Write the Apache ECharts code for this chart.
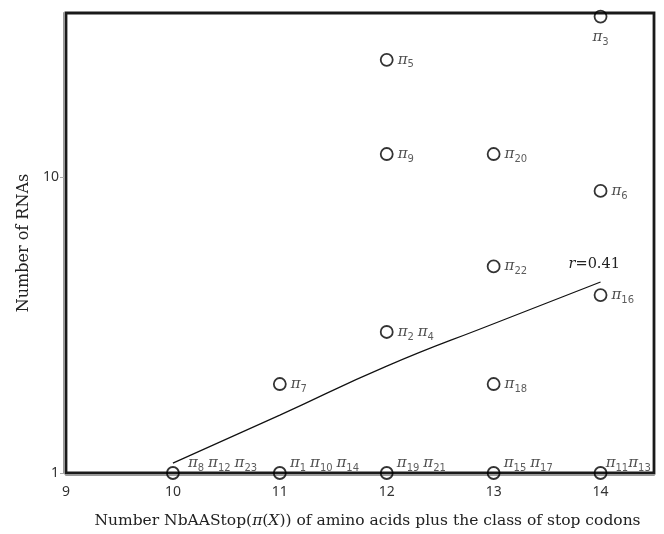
<!DOCTYPE html>
<html>
<head>
<meta charset="utf-8">
<script src="https://cdn.jsdelivr.net/npm/echarts@6/dist/echarts.min.js"></script>
<style>html,body{margin:0;padding:0;background:#fff;}#c{width:664px;height:534px;}</style>
</head>
<body>
<div id="c"></div>
<script>
const xTickValues = [9, 10, 11, 12, 13, 14];
const yTickValues = [1, 10];
const stopClass = [10, 11, 12, 13, 14, 14, 12, 12, 13, 14, 13, 14, 12, 11, 13];
const rnaCounts = [1, 1, 1, 1, 1, 35, 25, 12, 12, 9, 5, 4, 3, 2, 2];
const piLabels = ['π8 π12 π23', 'π1 π10 π14', 'π19 π21', 'π15 π17', 'π11π13', 'π3', 'π5', 'π9', 'π20', 'π6', 'π22', 'π16', 'π2 π4', 'π7', 'π18'];
const trendX = [10, 11, 12, 13, 14];
const trendY = [1.08, 1.57, 2.30, 3.20, 4.43];
const rValue = '0.41';
const xAxisName = 'Number NbAAStop(π(X)) of amino acids plus the class of stop codons';
const yAxisName = 'Number of RNAs';

const maxCount = Math.max.apply(null, rnaCounts);
function toRich(s) { return s.replace(/π(\d+)/g, '{p|π}{s|$1}'); }
const richStyles = {
  p: { fontFamily: 'DejaVu Serif', fontStyle: 'italic', fontSize: 15, color: '#222', lineHeight: 20, verticalAlign: 'middle' },
  s: { fontFamily: 'DejaVu Sans', fontSize: 10, color: '#333', lineHeight: 20, verticalAlign: 'bottom' }
};

const scatterData = stopClass.map(function (x, i) {
  const y = rnaCounts[i];
  let label;
  if (y === 1) {
    label = { position: [x === 14 ? 12 : (x === 10 ? 22 : 17), -3], align: 'left', verticalAlign: 'middle' };
  } else if (y === maxCount) {
    label = { position: 'bottom', distance: 4 };
  } else {
    label = { position: 'right', distance: 4 };
  }
  return { value: [x, y], name: piLabels[i], label: label };
});

const chart = echarts.init(document.getElementById('c'), null, { renderer: 'canvas' });
chart.setOption({
  animation: false,
  backgroundColor: '#fff',
  grid: { left: 66, right: 10, top: 13, bottom: 56, show: true, borderColor: '#1a1a1a', borderWidth: 2.8, backgroundColor: 'transparent' },
  xAxis: {
    type: 'value', min: 9, max: 14.5, interval: 1, offset: 2,
    splitLine: { show: false },
    axisLine: { show: true, lineStyle: { color: '#999', width: 2 } },
    axisTick: { show: false },
    axisLabel: { customValues: xTickValues, color: '#333', fontFamily: 'Noto Sans', fontSize: 14, margin: 10 },
    name: xAxisName.replace('(π(X))', '({i|π}({i|X}))'),
    nameLocation: 'middle', nameGap: 38,
    nameTextStyle: {
      fontFamily: 'DejaVu Serif', fontSize: 15.5, color: '#222', padding: [0, 0, 0, 15],
      rich: { i: { fontFamily: 'DejaVu Serif', fontStyle: 'italic', fontSize: 15.5, color: '#222' } }
    }
  },
  yAxis: {
    type: 'log', logBase: 10, min: 1, max: 36, offset: 2,
    splitLine: { show: false },
    axisLine: { show: true, lineStyle: { color: '#999', width: 2 } },
    axisTick: { show: true, customValues: yTickValues, length: 4, lineStyle: { color: '#aaa' } },
    axisLabel: { customValues: yTickValues, color: '#333', fontFamily: 'Noto Sans', fontSize: 14, margin: 5 },
    name: yAxisName, nameLocation: 'middle', nameGap: 25, nameRotate: 90,
    nameTextStyle: { fontFamily: 'DejaVu Serif', fontSize: 16, color: '#222' }
  },
  series: [
    {
      type: 'line', data: trendX.map(function (x, i) { return [x, trendY[i]]; }),
      smooth: true, symbol: 'none', showSymbol: false,
      lineStyle: { color: '#111', width: 1.2 },
      endLabel: {
        show: true, position: 'top', offset: [-40, -18],
        formatter: function () { return '{r|r}=' + rValue; },
        fontFamily: 'DejaVu Serif', fontSize: 14.5, color: '#222',
        rich: { r: { fontFamily: 'DejaVu Serif', fontStyle: 'italic', fontSize: 14.5, color: '#222' } }
      },
      z: 3
    },
    {
      type: 'scatter', data: scatterData, symbol: 'circle', symbolSize: 12,
      itemStyle: { color: 'rgba(0,0,0,0)', borderColor: '#000', borderWidth: 1.8 },
      label: {
        show: true,
        formatter: function (p) { return toRich(p.name); },
        color: '#333', fontSize: 14, rich: richStyles
      },
      z: 4
    }
  ]
});
</script>
</body>
</html>
